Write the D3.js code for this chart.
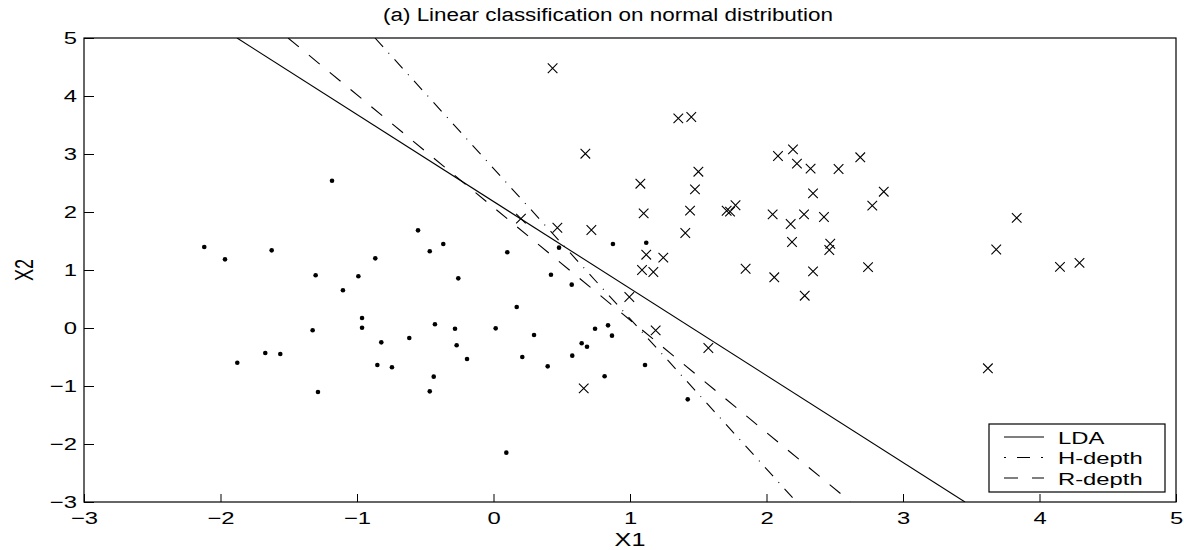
<!DOCTYPE html>
<html>
<head>
<meta charset="utf-8">
<script src="https://cdn.jsdelivr.net/npm/d3@7"></script>
<style>
  body { margin: 0; background: #fff; }
  text { font-family: "Liberation Sans", Arial, sans-serif; fill: #000; }
</style>
</head>
<body>
<div id="chart-area"></div>
<script>
// class 1 (dots)
var dotX = [-2.119, -1.967, -1.625, -1.183, -1.303, -1.103, -0.990, -0.866, -0.963, -0.963,
            -1.325, -1.877, -1.672, -1.562, -1.286, -0.822, -0.851, -0.744, -0.617, -0.553,
            -0.467, -0.368, -0.258, -0.429, -0.282, -0.270, -0.438, -0.467, 0.101, -0.194,
            0.016, 0.170, 0.297, 0.211, 0.397, 0.421, 0.480, 0.573, 0.577, 0.646,
            0.685, 0.744, 0.839, 0.868, 0.814, 0.875, 1.119, 1.110, 1.423, 0.094];
var dotY = [1.397, 1.184, 1.339, 2.540, 0.909, 0.650, 0.891, 1.201, 0.172, 0.005,
            -0.040, -0.598, -0.431, -0.448, -1.103, -0.247, -0.638, -0.678, -0.172, 1.684,
            1.322, 1.448, 0.856, 0.064, -0.012, -0.298, -0.839, -1.092, 1.305, -0.534,
            -0.006, 0.362, -0.121, -0.500, -0.661, 0.919, 1.385, 0.747, -0.477, -0.264,
            -0.322, -0.012, 0.046, -0.132, -0.833, 1.448, 1.471, -0.638, -1.230, -2.149];

// class 2 (crosses)
var crossX = [0.433, 1.354, 1.449, 0.673, 2.084, 2.194, 2.223, 2.323, 2.528, 2.687,
              1.501, 1.076, 1.476, 2.341, 2.859, 2.775, 1.100, 1.440, 1.708, 1.733,
              1.773, 2.045, 2.275, 2.177, 2.421, 1.405, 2.187, 2.467, 2.460, 0.201,
              0.468, 0.717, 1.119, 1.244, 1.088, 1.171, 1.847, 0.995, 1.188, 1.574,
              0.661, 3.833, 3.683, 2.744, 4.150, 4.293, 3.622, 2.057, 2.341, 2.280];
var crossY = [4.478, 3.615, 3.638, 3.005, 2.966, 3.080, 2.833, 2.747, 2.741, 2.943,
              2.695, 2.488, 2.391, 2.322, 2.350, 2.109, 1.977, 2.023, 2.022, 2.006,
              2.116, 1.960, 1.960, 1.793, 1.914, 1.638, 1.483, 1.453, 1.345, 1.885,
              1.729, 1.690, 1.264, 1.213, 1.000, 0.966, 1.022, 0.535, -0.040, -0.345,
              -1.040, 1.898, 1.354, 1.049, 1.053, 1.122, -0.695, 0.874, 0.977, 0.557];

// separating lines: x where each crosses X2 = 5 and X2 = -3
var lineNames = ["LDA", "H-depth", "R-depth"];
var lineTopX = [-1.879, -0.868, -1.505];
var lineBottomX = [3.454, 2.22, 2.617];

var xTicks = [-3, -2, -1, 0, 1, 2, 3, 4, 5];
var yTicks = [-3, -2, -1, 0, 1, 2, 3, 4, 5];

var margin = {top: 38, right: 8, bottom: 48, left: 84};
var width = 1092;
var height = 464;
var stretch = 1.4;

var dashes = ["none", "12,8,1,8", "14,13"];
var legendDashes = ["none", "2,11,13,11,2,100", "14,14"];

var svg = d3.select("#chart-area").append("svg")
    .attr("width", 1184)
    .attr("height", 550);

var g = svg.append("g")
    .attr("transform", "translate(" + margin.left + ", " + margin.top + ")");

var x = d3.scaleLinear().domain([-3, 5]).range([0, width]);
var y = d3.scaleLinear().domain([-3, 5]).range([height, 0]);

g.append("clipPath").attr("id", "clip")
    .append("rect").attr("width", width).attr("height", height);

// widen text the way the reference does
function widen(sel) {
    sel.each(function() {
        var len = this.getComputedTextLength();
        d3.select(this).attr("textLength", len * stretch).attr("lengthAdjust", "spacingAndGlyphs");
    });
}

var xAxis = g.append("g")
    .attr("transform", "translate(0, " + height + ")")
    .call(d3.axisBottom(x).tickValues(xTicks).tickSize(-8).tickPadding(10).tickFormat(d3.format("d")));
var yAxis = g.append("g")
    .call(d3.axisLeft(y).tickValues(yTicks).tickSize(-10).tickPadding(7).tickFormat(d3.format("d")));

[xAxis, yAxis].forEach(function(a) {
    a.select(".domain").remove();
    a.selectAll(".tick line").attr("stroke", "#000");
    a.selectAll(".tick text").attr("font-size", "17px").attr("font-family", "Liberation Sans, Arial, sans-serif").call(widen);
});

// plot box
g.append("rect")
    .attr("width", width)
    .attr("height", height)
    .attr("fill", "none")
    .attr("stroke", "#000")
    .attr("stroke-width", 1.2);

var lines = g.append("g").attr("clip-path", "url(#clip)");
lineNames.forEach(function(name, i) {
    lines.append("line")
        .attr("x1", x(lineTopX[i])).attr("y1", y(5))
        .attr("x2", x(lineBottomX[i])).attr("y2", y(-3))
        .attr("stroke", "#000")
        .attr("stroke-width", 1.1)
        .attr("stroke-dasharray", dashes[i]);
});

g.selectAll("circle.dot")
    .data(dotX)
    .enter().append("circle")
        .attr("class", "dot")
        .attr("cx", function(d) { return x(d); })
        .attr("cy", function(d, i) { return y(dotY[i]); })
        .attr("r", 2.3)
        .attr("fill", "#000");

var s = 4.8;
g.selectAll("path.cross")
    .data(crossX)
    .enter().append("path")
        .attr("class", "cross")
        .attr("d", function(d, i) {
            var cx = x(d), cy = y(crossY[i]);
            return "M" + (cx - s) + "," + (cy - s) + "L" + (cx + s) + "," + (cy + s) +
                   "M" + (cx - s) + "," + (cy + s) + "L" + (cx + s) + "," + (cy - s);
        })
        .attr("stroke", "#000")
        .attr("stroke-width", 1.1)
        .attr("fill", "none");

// title and axis labels
svg.append("text")
    .attr("x", 383)
    .attr("y", 21)
    .attr("font-size", "18px")
    .attr("textLength", 450)
    .attr("lengthAdjust", "spacingAndGlyphs")
    .text("(a) Linear classification on normal distribution");

svg.append("text")
    .attr("x", margin.left + x(1))
    .attr("y", 546)
    .attr("font-size", "18px")
    .attr("text-anchor", "middle")
    .text("X1")
    .call(widen);

svg.append("text")
    .attr("transform", "translate(33, " + (margin.top + height / 2) + ") rotate(-90) scale(1, " + stretch + ")")
    .attr("font-size", "18px")
    .attr("text-anchor", "middle")
    .text("X2");

// legend
var legend = svg.append("g");
legend.append("rect")
    .attr("x", 989).attr("y", 424)
    .attr("width", 176).attr("height", 68)
    .attr("fill", "#fff")
    .attr("stroke", "#000")
    .attr("stroke-width", 1.2);

lineNames.forEach(function(name, i) {
    var ly = 437 + i * 20.5;
    legend.append("line")
        .attr("x1", 1004).attr("x2", 1044)
        .attr("y1", ly).attr("y2", ly)
        .attr("stroke", "#000")
        .attr("stroke-width", 1.1)
        .attr("stroke-dasharray", legendDashes[i]);
    legend.append("text")
        .attr("x", 1058)
        .attr("y", ly + 6.5)
        .attr("font-size", "17px")
        .text(name)
        .call(widen);
});
</script>
</body>
</html>
